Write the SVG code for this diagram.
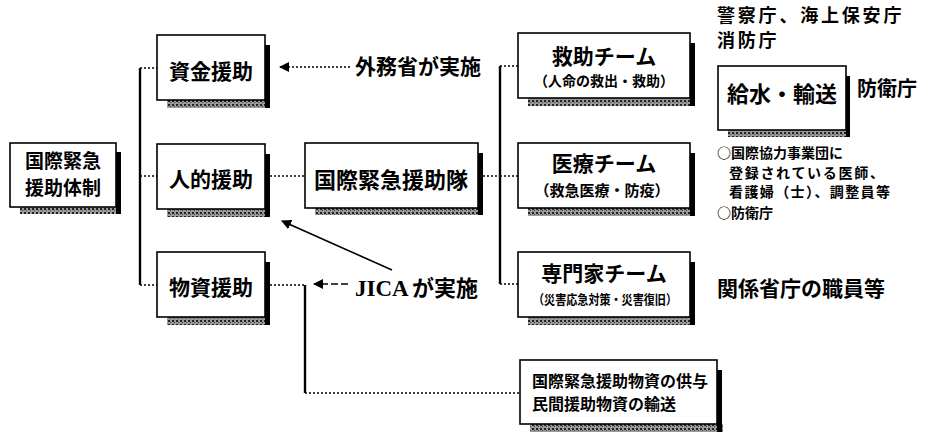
<svg xmlns="http://www.w3.org/2000/svg" width="926" height="434" viewBox="0 0 926 434">
<defs>
<pattern id="hatch" width="4" height="4" patternUnits="userSpaceOnUse">
<rect width="4" height="4" fill="#9a9a9a"/>
<rect x="0" y="0" width="2" height="2" fill="#222"/>
<rect x="2" y="2" width="1" height="1" fill="#444"/>
</pattern>
<marker id="ah" viewBox="0 0 10 10" refX="9" refY="5" markerWidth="10" markerHeight="10" markerUnits="userSpaceOnUse" orient="auto">
<path d="M0,0 L10,5 L0,10 z" fill="#000"/>
</marker>
</defs>
<style>
.box{fill:#fff;stroke:#000;stroke-width:1.6}
.bar{fill:#000}
.sh{fill:url(#hatch)}
text{font-family:"Noto Sans CJK JP","Noto Sans CJK SC",sans-serif;font-weight:bold;fill:#000}
.t21{font-size:21px}
.t19{font-size:19px}
.t18{font-size:18px}
.t20{font-size:20px}
.t22{font-size:22px}
.t14{font-size:14px}
.t15{font-size:15px}
.t16{font-size:16px}
.solid{stroke:#000;stroke-width:2.4;fill:none}
.dot{stroke:#000;stroke-width:1.4;stroke-dasharray:2 2;fill:none}
.dash{stroke:#000;stroke-width:1.6;stroke-dasharray:7 3;fill:none}
.mid{text-anchor:middle}
</style>
<rect width="926" height="434" fill="#fff"/>

<g id="connectors">
<path class="solid" d="M140,68 V285"/>
<path class="dot" d="M140,68 H157 M140,176 H157 M140,285 H157"/>
<path class="dot" d="M270,176 H305"/>
<path class="dot" d="M483,176 H500"/>
<path class="solid" d="M500,66 V284" stroke-width="2"/>
<path class="dot" d="M500,66 H518 M500,176 H518 M500,284 H518"/>
<path class="dot" d="M270,285 H305"/>
<path class="solid" d="M305,285 V393" stroke-width="2"/>
<path class="dot" d="M305,393 H520"/>
<path class="dot" d="M350,67 H280" marker-end="url(#ah)"/>
<path class="dash" d="M348,284 H314" marker-end="url(#ah)"/>
<path stroke="#000" stroke-width="1.6" fill="none" d="M392,270 L282,221" marker-end="url(#ah)"/>
</g>

<g id="n-taisei">
<rect class="sh" x="20" y="207" width="101" height="7"/>
<rect class="bar" x="116" y="152" width="5" height="62"/>
<rect class="box" x="10" y="143" width="106" height="64"/>
<text class="t19 mid" x="63" y="168">国際緊急</text>
<text class="t19 mid" x="63" y="195">援助体制</text>
</g>

<g id="n-shikin">
<rect class="sh" x="167" y="100" width="103" height="8"/>
<rect class="bar" x="265" y="45" width="5" height="63"/>
<rect class="box" x="157" y="35" width="108" height="65"/>
<text class="t21 mid" x="211" y="79">資金援助</text>
</g>

<g id="n-jinteki">
<rect class="sh" x="167" y="209" width="103" height="8"/>
<rect class="bar" x="265" y="154" width="5" height="63"/>
<rect class="box" x="157" y="144" width="108" height="65"/>
<text class="t21 mid" x="211" y="187">人的援助</text>
</g>

<g id="n-busshi">
<rect class="sh" x="167" y="317" width="103" height="8"/>
<rect class="bar" x="265" y="262" width="5" height="63"/>
<rect class="box" x="157" y="252" width="108" height="65"/>
<text class="t21 mid" x="211" y="295">物資援助</text>
</g>

<g id="n-tai">
<rect class="sh" x="315" y="208" width="168" height="7"/>
<rect class="bar" x="478" y="153" width="5" height="62"/>
<rect class="box" x="305" y="143" width="173" height="65"/>
<text class="t22 mid" x="391" y="188">国際緊急援助隊</text>
</g>

<g id="n-kyujo">
<rect class="sh" x="528" y="98" width="167" height="8"/>
<rect class="bar" x="690" y="43" width="5" height="63"/>
<rect class="box" x="518" y="33" width="172" height="65"/>
<text class="t21 mid" x="604" y="64">救助チーム</text>
<text class="t14 mid" x="604" y="86">（人命の救出・救助）</text>
</g>

<g id="n-iryo">
<rect class="sh" x="528" y="208" width="167" height="8"/>
<rect class="bar" x="690" y="153" width="5" height="63"/>
<rect class="box" x="518" y="143" width="172" height="65"/>
<text class="t21 mid" x="604" y="171">医療チーム</text>
<text class="t15 mid" x="602" y="196">（救急医療・防疫）</text>
</g>

<g id="n-senmon">
<rect class="sh" x="528" y="317" width="167" height="8"/>
<rect class="bar" x="690" y="262" width="5" height="63"/>
<rect class="box" x="518" y="252" width="172" height="65"/>
<text class="t21 mid" x="604" y="281">専門家チーム</text>
<text class="mid" font-size="13" x="605" y="304" textLength="144" lengthAdjust="spacingAndGlyphs">（災害応急対策・災害復旧）</text>
</g>

<g id="n-kyoyo">
<rect class="sh" x="530" y="424" width="193" height="8"/>
<rect class="bar" x="717" y="370" width="5" height="62"/>
<rect class="box" x="520" y="360" width="197" height="64"/>
<text class="t16" x="532" y="387">国際緊急援助物資の供与</text>
<text class="t16" x="532" y="410">民間援助物資の輸送</text>
</g>

<g id="n-kyusui">
<rect class="sh" x="728" y="130" width="122" height="7"/>
<rect class="bar" x="846" y="76" width="4" height="61"/>
<rect class="box" x="718" y="66" width="128" height="64"/>
<text class="t22 mid" x="782" y="102">給水・輸送</text>
</g>

<g id="labels">
<text class="t21" x="355" y="74">外務省が実施</text>
<text class="t22" x="355" y="296"><tspan font-family="Liberation Serif" font-size="23">JICA</tspan><tspan x="412">が実施</tspan></text>
<text class="t18" x="717" y="22" letter-spacing="2.8">警察庁、海上保安庁</text>
<text class="t18" x="717" y="47" letter-spacing="2.8">消防庁</text>
<text class="t20" x="857" y="96">防衛庁</text>
<text class="t14" x="717" y="158">○国際協力事業団に</text>
<text class="t14" x="729" y="177.5" letter-spacing="1.7">登録されている医師、</text>
<text class="t14" x="729" y="197" letter-spacing="1.4">看護婦（士）、調整員等</text>
<text class="t14" x="717" y="218">○防衛庁</text>
<text class="t21" x="717" y="296">関係省庁の職員等</text>
</g>
</svg>
